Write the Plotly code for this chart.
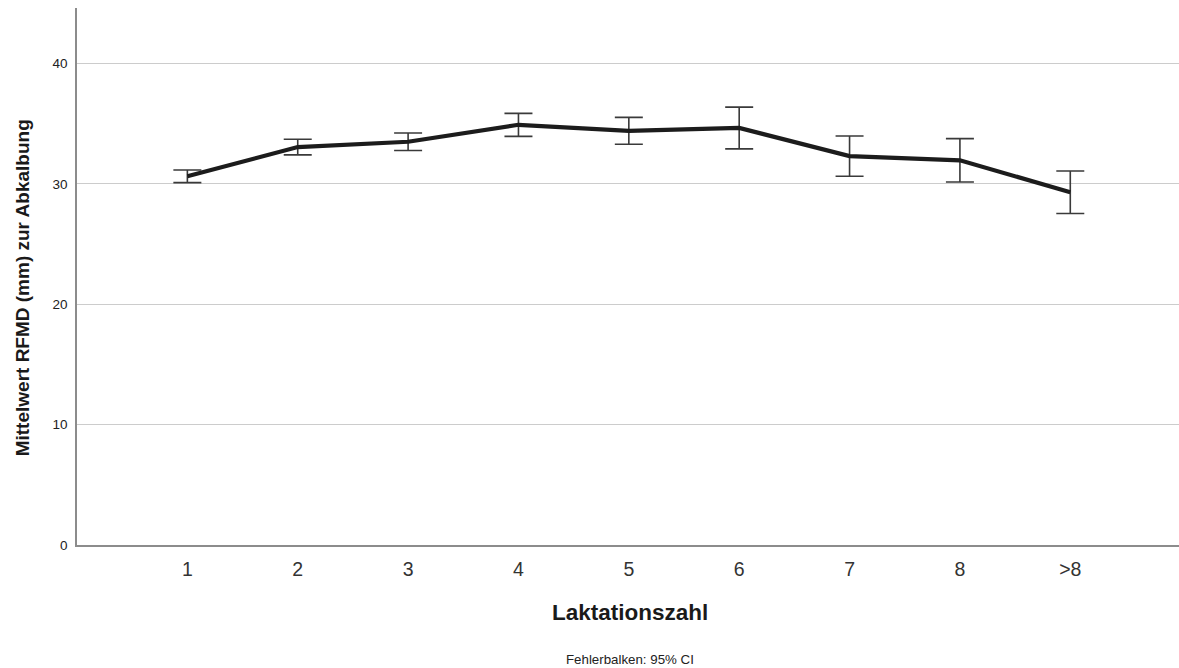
import plotly.graph_objects as go

# Mean RFMD at calving by lactation number, with 95% confidence intervals
laktation = ["1", "2", "3", "4", "5", "6", "7", "8", ">8"]
mittelwert = [30.63, 33.05, 33.49, 34.90, 34.40, 34.64, 32.30, 31.95, 29.30]
ci_unten = [30.10, 32.40, 32.76, 33.94, 33.28, 32.90, 30.62, 30.15, 27.53]
ci_oben = [31.15, 33.70, 34.22, 35.85, 35.52, 36.37, 33.97, 33.75, 31.06]
y_ticks = [0, 10, 20, 30, 40]

err_plus = [o - m for o, m in zip(ci_oben, mittelwert)]
err_minus = [m - u for m, u in zip(mittelwert, ci_unten)]

SANS = "Liberation Sans, Arial, sans-serif"

fig = go.Figure()
fig.add_trace(go.Scatter(
    x=laktation,
    y=mittelwert,
    mode="lines",
    line=dict(color="#1c1c1c", width=4.2),
    error_y=dict(
        type="data",
        symmetric=False,
        array=err_plus,
        arrayminus=err_minus,
        color="#3a3a3a",
        thickness=1.6,
        width=14,
    ),
    showlegend=False,
    hoverinfo="x+y",
))

fig.update_layout(
    width=1179,
    height=668,
    margin=dict(l=77, r=0, t=8, b=123),
    paper_bgcolor="white",
    plot_bgcolor="white",
    xaxis=dict(
        type="category",
        range=[-1, 8.985],
        showgrid=False,
        showline=True,
        linecolor="#8c8c8c",
        linewidth=1.5,
        ticks="",
        ticklabelstandoff=6,
        tickfont=dict(family=SANS, size=19.5, color="#333333"),
        zeroline=False,
    ),
    yaxis=dict(
        range=[0, 44.6],
        tickvals=y_ticks,
        showgrid=True,
        gridcolor="#cccccc",
        gridwidth=1,
        showline=True,
        linecolor="#8c8c8c",
        linewidth=1.5,
        ticks="",
        ticklabelstandoff=5,
        tickfont=dict(family=SANS, size=13.5, color="#222222"),
        zeroline=False,
    ),
    annotations=[
        dict(
            text="<b>Mittelwert RFMD (mm) zur Abkalbung</b>",
            xref="paper", yref="paper",
            x=-0.0499, y=0.478,
            xanchor="center", yanchor="middle",
            textangle=-90, showarrow=False,
            font=dict(family=SANS, size=19, color="#1a1a1a"),
        ),
        dict(
            text="<b>Laktationszahl</b>",
            xref="paper", yref="paper",
            x=0.5018, y=-0.1266,
            xanchor="center", yanchor="middle",
            showarrow=False,
            font=dict(family=SANS, size=22.5, color="#1a1a1a"),
        ),
        dict(
            text="Fehlerbalken: 95% CI",
            xref="paper", yref="paper",
            x=0.5018, y=-0.2123,
            xanchor="center", yanchor="middle",
            showarrow=False,
            font=dict(family=SANS, size=13.3, color="#222222"),
        ),
    ],
)

fig.write_html("out.html")
